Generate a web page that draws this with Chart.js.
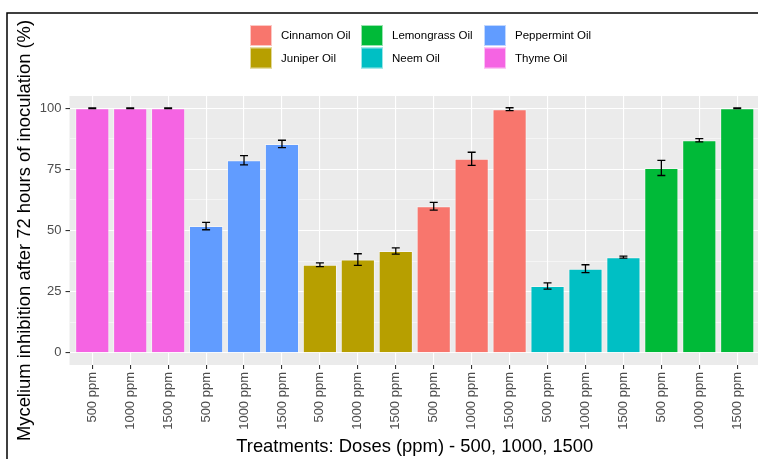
<!DOCTYPE html>
<html>
<head>
    <title>Mycelium inhibition</title>
    <script src="https://cdn.jsdelivr.net/npm/chart.js"></script>
    <style>
        body { margin: 0; overflow: hidden; background: #fff; }
        #wrap { width: 770px; height: 459px; }
    </style>
</head>
<body>
    <div id="wrap"><canvas id="inhibChart" width="770" height="459"></canvas></div>

    <script>
        // data
        const doses = ['500 ppm', '1000 ppm', '1500 ppm'];
        const oils = ['Thyme Oil', 'Peppermint Oil', 'Juniper Oil', 'Cinnamon Oil', 'Neem Oil', 'Lemongrass Oil'];
        const oilColors = ['#F564E3', '#619CFF', '#B79F00', '#F8766D', '#00BFC4', '#00BA38'];
        const inhibition = [100, 100, 100, 51.8, 78.7, 85.4, 36.0, 38.1, 41.6, 59.9, 79.3, 99.6, 27.3, 34.4, 39.1, 75.6, 86.9, 100];
        const errors = [0.15, 0.15, 0.15, 1.5, 1.9, 1.5, 0.8, 2.4, 1.3, 1.6, 2.7, 0.6, 1.3, 1.6, 0.4, 3.1, 0.7, 0.15];
        const yTicks = [0, 12.5, 25, 37.5, 50, 62.5, 75, 87.5, 100];
        const legendOrder = ['Cinnamon Oil', 'Juniper Oil', 'Lemongrass Oil', 'Neem Oil', 'Peppermint Oil', 'Thyme Oil'];

        const FONT = '"Liberation Sans", Arial, sans-serif';

        // one bar per (oil, dose); x is the bar's position on a linear axis so
        // the panel can get ggplot's 0.6 expansion on both sides
        const labels = [];
        const barColors = [];
        oils.forEach((oil, i) => {
            doses.forEach(d => {
                labels.push(d);
                barColors.push(oilColors[i]);
            });
        });
        const points = inhibition.map((v, i) => ({ x: i, y: v }));

        const panelBg = {
            id: 'panelBg',
            beforeDraw(chart) {
                const a = chart.chartArea, c = chart.ctx;
                c.save();
                c.fillStyle = '#EBEBEB';
                c.fillRect(a.left, a.top, a.right - a.left, a.bottom - a.top);
                c.restore();
            }
        };

        const errorBars = {
            id: 'errorBars',
            afterDatasetsDraw(chart) {
                const c = chart.ctx, xs = chart.scales.x, ys = chart.scales.y;
                c.save();
                c.strokeStyle = '#000';
                c.lineWidth = 1.3;
                inhibition.forEach((v, i) => {
                    const x = xs.getPixelForValue(i);
                    const top = ys.getPixelForValue(v + errors[i]);
                    const bot = ys.getPixelForValue(v - errors[i]);
                    c.beginPath();
                    c.moveTo(x, top); c.lineTo(x, bot);
                    c.moveTo(x - 4, top); c.lineTo(x + 4, top);
                    c.moveTo(x - 4, bot); c.lineTo(x + 4, bot);
                    c.stroke();
                });
                c.restore();
            }
        };

        // ggplot-style legend: 3 columns, 2 rows, filled column by column
        const gridLegend = {
            id: 'gridLegend',
            afterDraw(chart) {
                const c = chart.ctx;
                const colX = [250, 361, 484];
                const rowY = [25, 47.5];
                c.save();
                c.font = '11.5px ' + FONT;
                c.textBaseline = 'middle';
                legendOrder.forEach((name, k) => {
                    const x = colX[Math.floor(k / 2)], y = rowY[k % 2];
                    c.fillStyle = oilColors[oils.indexOf(name)];
                    c.fillRect(x, y, 22, 21);
                    c.strokeStyle = 'rgba(255,255,255,0.6)';
                    c.lineWidth = 1;
                    c.strokeRect(x + 0.5, y + 0.5, 21, 20);
                    c.fillStyle = '#000';
                    c.fillText(name, x + 31, y + 11);
                });
                // figure frame
                c.strokeStyle = '#000';
                c.lineWidth = 1.5;
                c.strokeRect(7, 13, 820, 520);
                c.restore();
            }
        };

        const ctx = document.getElementById('inhibChart').getContext('2d');
        new Chart(ctx, {
            type: 'bar',
            data: {
                datasets: [{
                    data: points,
                    backgroundColor: barColors,
                    borderColor: 'rgba(255,255,255,0.45)',
                    borderWidth: 1,
                    barPercentage: 0.9,
                    categoryPercentage: 1
                }]
            },
            options: {
                responsive: false,
                animation: false,
                layout: { padding: { top: 96, left: 7, right: 10, bottom: 0 } },
                plugins: { legend: { display: false }, tooltip: { enabled: false } },
                scales: {
                    x: {
                        type: 'linear',
                        min: -0.6, max: labels.length - 0.4,
                        offset: false,
                        afterFit(s) { s.height = 94; },
                        afterBuildTicks(s) { s.ticks = labels.map((l, i) => ({ value: i })); },
                        grid: { offset: false, color: '#fff', lineWidth: 1.1, tickColor: '#333', tickLength: 4 },
                        border: { display: false },
                        ticks: {
                            minRotation: 90, maxRotation: 90, autoSkip: false, padding: 3,
                            color: '#4D4D4D', font: { family: FONT, size: 13 },
                            callback: v => labels[v]
                        },
                        title: {
                            display: true,
                            text: 'Treatments: Doses (ppm) - 500, 1000, 1500',
                            color: '#000', font: { family: FONT, size: 18.4 },
                            padding: { top: 0, bottom: 1 }
                        }
                    },
                    y: {
                        min: -5, max: 105,
                        afterFit(s) { s.width = 62.5; },
                        afterBuildTicks(s) { s.ticks = yTicks.map(v => ({ value: v })); },
                        grid: {
                            color: '#fff',
                            lineWidth: c => (c.tick && c.tick.value % 25 === 0) ? 1.1 : 0.5,
                            tickColor: c => (c.tick && c.tick.value % 25 === 0) ? '#333' : 'rgba(0,0,0,0)',
                            tickLength: 4
                        },
                        border: { display: false },
                        ticks: {
                            padding: 4,
                            color: '#4D4D4D', font: { family: FONT, size: 13 },
                            callback: v => (v % 25 === 0 ? v : '')
                        },
                        title: {
                            display: true,
                            text: 'Mycelium inhibition after 72 hours of inoculation (%)',
                            color: '#000', font: { family: FONT, size: 18.4 },
                            padding: { top: 7, bottom: 0 }
                        }
                    }
                }
            },
            plugins: [panelBg, errorBars, gridLegend]
        });
    </script>
</body>
</html>
